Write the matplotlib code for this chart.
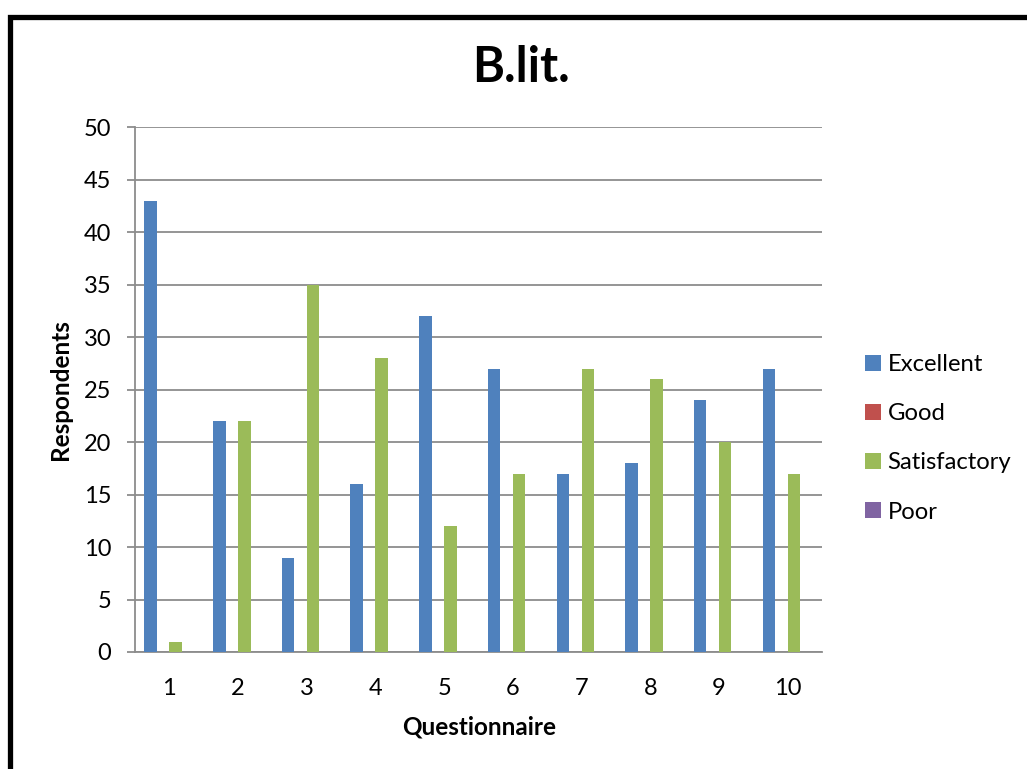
import matplotlib
matplotlib.use("Agg")
import matplotlib.pyplot as plt
from matplotlib.lines import Line2D
import numpy as np

plt.rcParams['font.family'] = ['Lato', 'DejaVu Sans']

questions = [1, 2, 3, 4, 5, 6, 7, 8, 9, 10]
series_names = ["Excellent", "Good", "Satisfactory", "Poor"]
excellent = [43, 22, 9, 16, 32, 27, 17, 18, 24, 27]
good = [0, 0, 0, 0, 0, 0, 0, 0, 0, 0]
satisfactory = [1, 22, 35, 28, 12, 17, 27, 26, 20, 17]
poor = [0, 0, 0, 0, 0, 0, 0, 0, 0, 0]
colors = ["#4F81BD", "#C0504D", "#9BBB59", "#8064A2"]

W, H = 1027, 769
fig = plt.figure(figsize=(W / 100, H / 100), dpi=100)
ax = fig.add_axes([135 / W, 1 - 652 / H, (822 - 135) / W, (652 - 127) / H])

x = np.array(questions, dtype=float)
w = 1 / 5.5
data = [excellent, good, satisfactory, poor]
for i, (name, vals, c) in enumerate(zip(series_names, data, colors)):
    ax.bar(x + (i - 1.5) * w, vals, width=w, color=c, label=name, zorder=3)

ax.set_xlim(0.5, 10.5)
ax.set_ylim(0, 50)
ax.set_yticks(np.arange(0, 51, 5))
ax.set_xticks(x)
ax.set_xticklabels([str(q) for q in questions])
grid_c = "#8C8C8C"
ax.yaxis.grid(True, color=grid_c, linewidth=1.3, zorder=0)
ax.set_axisbelow(True)
for s in ["top", "right"]:
    ax.spines[s].set_visible(False)
for s in ["left", "bottom"]:
    ax.spines[s].set_color(grid_c)
    ax.spines[s].set_linewidth(1.3)
ax.tick_params(axis='y', length=6, width=1.3, color=grid_c, labelsize=17, pad=11)
ax.tick_params(axis='x', length=0, labelsize=17, pad=19)

fig.text(61 / W, 1 - 390 / H, "Respondents", rotation=90, ha='center', va='center',
         fontsize=17.5, fontweight='bold')
fig.text(479 / W, 1 - 727 / H, "Questionnaire", ha='center', va='center',
         fontsize=17.5, fontweight='bold')
fig.text(521 / W, 1 - 68 / H, "B.lit.", ha='center', va='center',
         fontsize=35, fontweight='bold')

leg = fig.legend(loc='upper left', bbox_to_anchor=(865 / W, 1 - 354 / H),
                 frameon=False, fontsize=17.2, handlelength=0.65, handleheight=0.65,
                 handletextpad=0.3, labelspacing=1.18, borderaxespad=0, borderpad=0)

# frame (left and top thick border)
fig.add_artist(Line2D([9.5 / W, 9.5 / W, 1.0], [0, 1 - 16.5 / H, 1 - 16.5 / H],
                      transform=fig.transFigure, color='black', linewidth=3.8,
                      solid_joinstyle='miter', solid_capstyle='butt'))

fig.savefig("out.png", dpi=100)
